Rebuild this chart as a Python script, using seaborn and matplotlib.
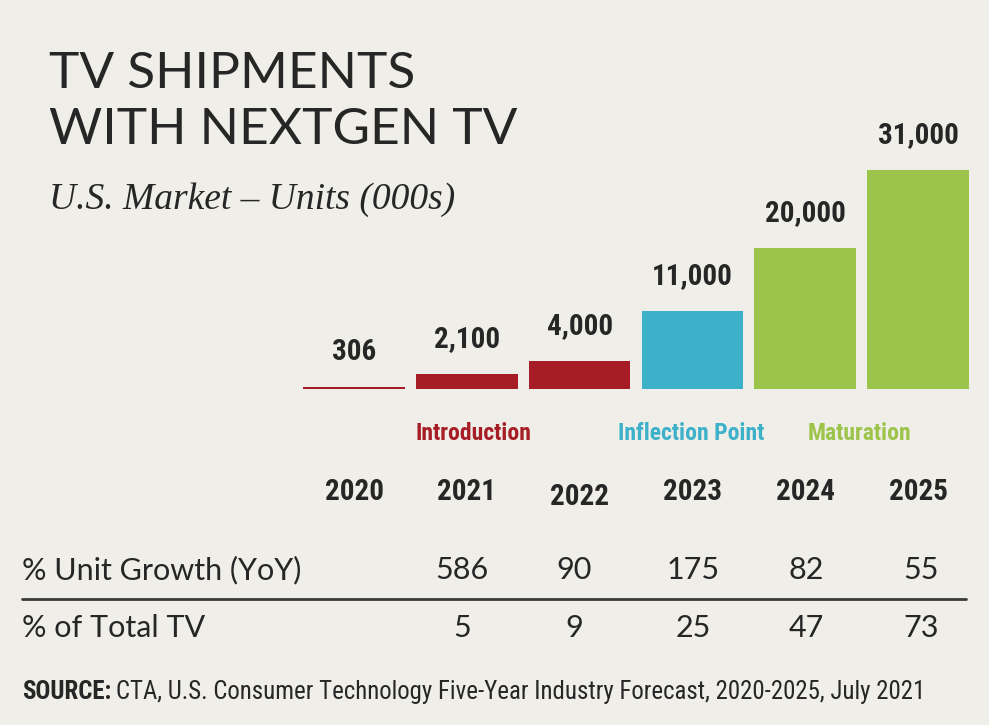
import matplotlib
matplotlib.use("Agg")
import matplotlib.pyplot as plt
import seaborn as sns
import pandas as pd
from matplotlib import font_manager as fm

# ---- data ----
years = ["2020", "2021", "2022", "2023", "2024", "2025"]
units = [306, 2100, 4000, 11000, 20000, 31000]
unit_labels = ["306", "2,100", "4,000", "11,000", "20,000", "31,000"]
bar_colors = ["#a71d25", "#a71d25", "#a71d25", "#3db0ca", "#9dc44a", "#9dc44a"]
growth_yoy = ["", "586", "90", "175", "82", "55"]
share_total = ["", "5", "9", "25", "47", "73"]
stage_names = ["Introduction", "Inflection Point", "Maturation"]
stage_colors = ["#a71d25", "#3db0ca", "#9dc44a"]
stage_pos = [1.06, 2.99, 4.48]

BG = "#efeee8"
INK = "#262626"

sns.set_theme(style="white")

names = {f.name for f in fm.fontManager.ttflist}
def pick(*cands):
    for c in cands:
        if c in names:
            return c
    return "DejaVu Sans"

COND = pick("Roboto Condensed", "Liberation Sans Narrow", "DejaVu Sans")
TITLE = pick("Lato", "Open Sans", "DejaVu Sans")
SERIF = pick("Liberation Serif", "DejaVu Serif")

plt.rcParams["font.family"] = [TITLE, "DejaVu Sans"]

W, H = 989, 725
fig = plt.figure(figsize=(W / 100, H / 100), dpi=100, facecolor=BG)
ax = fig.add_axes([0, 0, 1, 1])
ax.set_facecolor(BG)

df = pd.DataFrame({"year": years, "units": units})
sns.barplot(data=df, x="year", y="units", hue="year", palette=bar_colors,
            width=0.9, legend=False, ax=ax, saturation=1, linewidth=0)

# pixel mapping: bar centers at 354 + 112.8*i px, baseline at y=389 px, 31000 -> 219 px
c0, step = 354.0, 112.8
ax.set_xlim(-c0 / step, (W - c0) / step)
upp = 31000 / 219.0
base = 389.0
ax.set_ylim(-(H - base) * upp, base * upp)
ax.axis("off")

def fy(py):
    return 1 - py / H

def fx(px):
    return px / W

# value labels
for i, (v, lab) in enumerate(zip(units, unit_labels)):
    ax.annotate(lab, (i, v), xytext=(0, 25), textcoords="offset points",
                ha="center", va="center", fontsize=21, fontweight="bold",
                family=COND, color=INK)

# stage labels
for name, col, pos in zip(stage_names, stage_colors, stage_pos):
    ax.text(pos, -(433 - base) * upp, name, ha="center", va="center",
            fontsize=17, fontweight="bold", family=COND, color=col)

# year labels
for i, y in enumerate(years):
    py = 497 if y == "2022" else 492
    ax.text(i, -(py - base) * upp, y, ha="center", va="center",
            fontsize=21, fontweight="bold", family=COND, color=INK)

# titles
fig.text(fx(49), fy(88), "TV SHIPMENTS", fontsize=37, fontweight="normal",
         family=TITLE, color=INK, va="baseline")
fig.text(fx(49), fy(144), "WITH NEXTGEN TV", fontsize=37, fontweight="normal",
         family=TITLE, color=INK, va="baseline")
fig.text(fx(49), fy(200), "U.S. Market \u2013 Units (000s)", fontsize=27,
         style="italic", family=SERIF, color=INK, va="center")

# table rows
fs_tab = 22
fig.text(fx(22), fy(570), "% Unit Growth (YoY)", fontsize=fs_tab, fontweight="normal",
         family=TITLE, color=INK, va="center")
fig.text(fx(22), fy(628), "% of Total TV", fontsize=fs_tab, fontweight="normal",
         family=TITLE, color=INK, va="center")
val_x = [0, 462, 574, 693, 806, 921]
for i in range(1, 6):
    fig.text(fx(val_x[i]), fy(570), growth_yoy[i], fontsize=fs_tab, fontweight="normal",
             family=TITLE, color=INK, va="center", ha="center")
    fig.text(fx(val_x[i]), fy(628), share_total[i], fontsize=fs_tab, fontweight="normal",
             family=TITLE, color=INK, va="center", ha="center")

fig.add_artist(plt.Line2D([fx(22), fx(966)], [fy(599), fy(599)],
                          color="#3a3a3a", linewidth=2, transform=fig.transFigure))

# source
t1 = fig.text(fx(22), fy(692), "SOURCE:", fontsize=17.9, fontweight="bold",
              family=COND, color=INK, va="center")
fig.canvas.draw()
bb = t1.get_window_extent()
fig.text((bb.x1 + 5) / W, fy(692),
         "CTA, U.S. Consumer Technology Five-Year Industry Forecast, 2020-2025, July 2021",
         fontsize=17.9, family=COND, color=INK, va="center")

fig.savefig("out.png", dpi=100, facecolor=BG)
